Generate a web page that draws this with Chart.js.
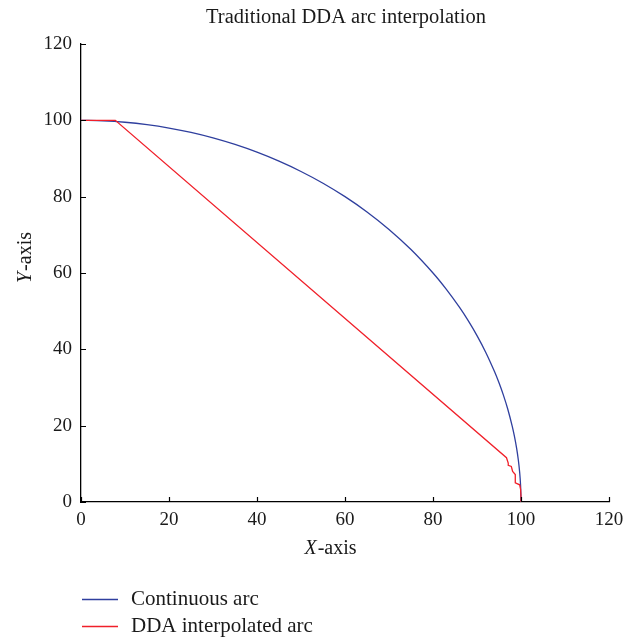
<!DOCTYPE html>
<html>
<head>
<meta charset="utf-8">
<script src="https://cdn.jsdelivr.net/npm/chart.js@4"></script>
<style>
  html, body { margin: 0; padding: 0; background: #fff; }
  #wrap { width: 637px; height: 637px; }
</style>
</head>
<body>
<div id="wrap"><canvas id="arcChart" width="637" height="637"></canvas></div>
<script>
// continuous quarter arc, radius 100
const arcX = [0, 5, 10, 15, 20, 25, 30, 35, 40, 45, 50, 55, 60, 65, 70, 75, 80, 83, 86, 88, 90, 92, 94, 95, 96, 97, 98, 98.5, 99, 99.4, 99.7, 99.9, 100];
const arcY = [100, 99.87, 99.5, 98.87, 97.98, 96.82, 95.39, 93.67, 91.65, 89.3, 86.6, 83.52, 80, 75.99, 71.41, 66.14, 60, 55.77, 51.03, 47.5, 43.59, 39.19, 34.12, 31.22, 28, 24.31, 19.9, 17.25, 14.11, 10.94, 7.74, 4.47, 0];

// DDA interpolated path
const ddaX = [0, 7.8, 96.7, 97.1, 97.1, 97.8, 98.1, 98.7, 98.7, 99.7, 99.9, 100, 100];
const ddaY = [100, 100, 11.6, 10.2, 9.6, 9.3, 8.0, 7.2, 5.0, 4.5, 3.4, 1.5, 0];

const xTicks = [0, 20, 40, 60, 80, 100, 120];
const yTicks = [0, 20, 40, 60, 80, 100, 120];

const seriesNames = ["Continuous arc", "DDA interpolated arc"];
const seriesColors = ["#2f3f9e", "#f0202a"];

const SERIF = "'Liberation Serif', 'DejaVu Serif', serif";
const TXT = "#1a1a1a";

const toPts = (xs, ys) => xs.map((x, i) => ({ x: x, y: ys[i] }));

// inward tick marks, titles and legend
const decorations = {
  id: "decorations",
  afterDraw(chart) {
    const ctx = chart.ctx;
    const xs = chart.scales.x;
    const ys = chart.scales.y;
    const area = chart.chartArea;

    ctx.save();
    ctx.strokeStyle = "#000";
    ctx.lineWidth = 1.2;
    ctx.beginPath();
    xTicks.forEach((v) => {
      const px = Math.round(xs.getPixelForValue(v)) + 0.5;
      ctx.moveTo(px, area.bottom);
      ctx.lineTo(px, area.bottom - 5);
    });
    yTicks.forEach((v) => {
      const py = Math.round(ys.getPixelForValue(v)) + 0.5;
      ctx.moveTo(area.left, py);
      ctx.lineTo(area.left + 5, py);
    });
    ctx.stroke();

    ctx.fillStyle = TXT;
    ctx.textBaseline = "middle";

    // title
    ctx.font = "20.5px " + SERIF;
    ctx.textAlign = "center";
    ctx.fillText("Traditional DDA arc interpolation", 346, 18);

    // x axis title with italic letter
    drawAxisTitle(ctx, "X", "-axis", 330, 549);

    // y axis title, rotated
    ctx.save();
    ctx.translate(26, 258);
    ctx.rotate(-Math.PI / 2);
    drawAxisTitle(ctx, "Y", "-axis", 0, 0);
    ctx.restore();

    // legend
    ctx.textAlign = "left";
    ctx.font = "21px " + SERIF;
    seriesNames.forEach((name, i) => {
      const y = 599 + i * 27;
      ctx.strokeStyle = seriesColors[i];
      ctx.lineWidth = 1.3;
      ctx.beginPath();
      ctx.moveTo(82, y + 0.5);
      ctx.lineTo(118, y + 0.5);
      ctx.stroke();
      ctx.fillText(name, 131, y);
    });
    ctx.restore();
  }
};

function drawAxisTitle(ctx, letter, rest, cx, cy) {
  const italic = "italic 20px " + SERIF;
  const normal = "20px " + SERIF;
  ctx.font = italic;
  const w1 = ctx.measureText(letter).width;
  ctx.font = normal;
  const w2 = ctx.measureText(rest).width;
  const x0 = cx - (w1 + w2) / 2;
  ctx.textAlign = "left";
  ctx.font = italic;
  ctx.fillText(letter, x0, cy);
  ctx.font = normal;
  ctx.fillText(rest, x0 + w1 + 1, cy);
}

const axisFont = { family: SERIF, size: 19 };

new Chart(document.getElementById("arcChart"), {
  type: "scatter",
  data: {
    datasets: [
      {
        label: seriesNames[0],
        data: toPts(arcX, arcY),
        showLine: true,
        borderColor: seriesColors[0],
        borderWidth: 1.3,
        pointRadius: 0,
        tension: 0.3,
        order: 1,
      },
      {
        label: seriesNames[1],
        data: toPts(ddaX, ddaY),
        showLine: true,
        borderColor: seriesColors[1],
        borderWidth: 1.3,
        pointRadius: 0,
        tension: 0,
        order: 0,
      },
    ],
  },
  options: {
    responsive: false,
    animation: false,
    layout: { padding: { top: 44, right: 28, left: 0, bottom: 0 } },
    plugins: {
      legend: { display: false },
      title: { display: false },
      tooltip: { enabled: false },
    },
    scales: {
      x: {
        type: "linear",
        min: 0,
        max: 120,
        afterBuildTicks: (s) => { s.ticks = xTicks.map((v) => ({ value: v })); },
        afterFit: (s) => { s.height = 135; },
        grid: { display: false, drawTicks: false },
        border: { display: true, color: "#000", width: 1.3 },
        ticks: { font: axisFont, color: TXT, padding: 7, maxRotation: 0 },
      },
      y: {
        type: "linear",
        min: 0,
        max: 120,
        afterBuildTicks: (s) => { s.ticks = yTicks.map((v) => ({ value: v })); },
        afterFit: (s) => { s.width = 81; },
        grid: { display: false, drawTicks: false },
        border: { display: true, color: "#000", width: 1.3 },
        ticks: { font: axisFont, color: TXT, padding: 9 },
      },
    },
  },
  plugins: [decorations],
});
</script>
</body>
</html>
